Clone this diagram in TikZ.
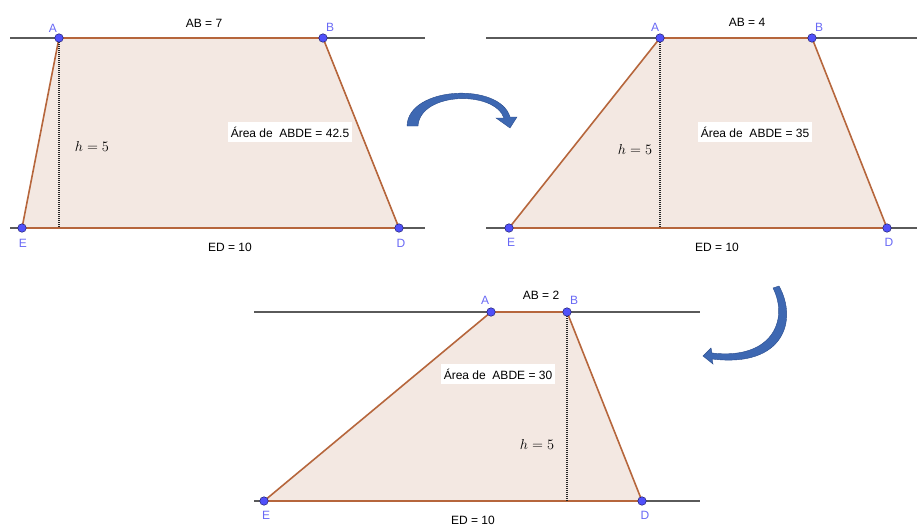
\documentclass[tikz,border=0pt]{standalone}
\usepackage{fontspec}
\setmainfont{Liberation Sans}
\definecolor{trapfill}{RGB}{243,232,226}
\definecolor{trapedge}{RGB}{182,102,60}
\definecolor{ptfill}{RGB}{80,80,250}
\definecolor{ptdraw}{RGB}{30,30,110}
\definecolor{ptlab}{RGB}{105,105,245}
\definecolor{guide}{RGB}{90,90,90}
\definecolor{arrfill}{RGB}{62,104,178}
\definecolor{arrdraw}{RGB}{40,75,140}
\tikzset{
  pt/.style={circle,fill=ptfill,draw=ptdraw,line width=0.5pt,inner sep=0pt,minimum size=8.5pt},
  ptlabel/.style={text=ptlab,font=\fontsize{12}{14}\selectfont,inner sep=0pt},
  txt/.style={font=\fontsize{12}{14}\selectfont,inner sep=0pt},
  areabox/.style={fill=white,font=\fontsize{12}{14}\selectfont,inner xsep=3pt,inner ysep=0pt,minimum height=20pt},
  hlab/.style={font=\fontsize{13.5}{15}\selectfont,inner sep=0pt},
  guideline/.style={draw=guide,line width=1.3pt},
  edge/.style={draw=trapedge,line width=1.6pt},
  htline/.style={draw=black!85,line width=1.1pt,dash pattern=on 1pt off 1pt},
  bluearrow/.style={fill=arrfill,draw=arrdraw,line width=0.4pt}
}
\begin{document}
\begin{tikzpicture}[x=1pt,y=-1pt]
\useasboundingbox (0,0) rectangle (917,525);
% ---------- panel 1 ----------
\coordinate (a1) at (59,38);
\coordinate (b1) at (323,38);
\coordinate (d1) at (399,228);
\coordinate (e1) at (22,228);
\coordinate (h1) at (59,228);
\coordinate (t1l) at (10,38); \coordinate (t1r) at (425,38);
\coordinate (u1l) at (10,228); \coordinate (u1r) at (425,228);
\fill[trapfill] (a1) -- (b1) -- (d1) -- (e1) -- cycle;
\draw[guideline] (t1l) -- (t1r);
\draw[guideline] (u1l) -- (u1r);
\draw[edge] (a1) -- (b1) -- (d1) -- (e1) -- cycle;
\draw[htline] (a1) -- (h1);
\node[pt] (A1) at (a1) {};
\node[pt] (B1) at (b1) {};
\node[pt] (D1) at (d1) {};
\node[pt] (E1) at (e1) {};
\node[ptlabel] (lA1) at (53,28) {A};
\node[ptlabel] (lB1) at (330,27) {B};
\node[ptlabel] (lE1) at (23,243) {E};
\node[ptlabel] (lD1) at (401,243) {D};
\node[txt] (ab1) at (204,23) {AB = 7};
\node[txt] (ed1) at (230,247) {ED = 10};
\node[hlab] (hh1) at (92,146) {$h=5$};
\node[areabox] (ar1) at (290,132) {Área de\ \ ABDE = 42.5};
% ---------- panel 2 ----------
\coordinate (a2) at (660,38);
\coordinate (b2) at (812,38);
\coordinate (d2) at (887,228);
\coordinate (e2) at (509,228);
\coordinate (h2) at (660,228);
\coordinate (t2l) at (486,38); \coordinate (t2r) at (917,38);
\coordinate (u2l) at (486,228); \coordinate (u2r) at (917,228);
\fill[trapfill] (a2) -- (b2) -- (d2) -- (e2) -- cycle;
\draw[guideline] (t2l) -- (t2r);
\draw[guideline] (u2l) -- (u2r);
\draw[edge] (a2) -- (b2) -- (d2) -- (e2) -- cycle;
\draw[htline] (a2) -- (h2);
\node[pt] (A2) at (a2) {};
\node[pt] (B2) at (b2) {};
\node[pt] (D2) at (d2) {};
\node[pt] (E2) at (e2) {};
\node[ptlabel] (lA2) at (655,27) {A};
\node[ptlabel] (lB2) at (819,27) {B};
\node[ptlabel] (lE2) at (511,242) {E};
\node[ptlabel] (lD2) at (889,242) {D};
\node[txt] (ab2) at (747,22) {AB = 4};
\node[txt] (ed2) at (717,247) {ED = 10};
\node[hlab] (hh2) at (635,149) {$h=5$};
\node[areabox] (ar2) at (755,132) {Área de\ \ ABDE = 35};
% ---------- panel 3 ----------
\coordinate (a3) at (491,312);
\coordinate (b3) at (567,312);
\coordinate (d3) at (642,501);
\coordinate (e3) at (264,501);
\coordinate (h3) at (567,501);
\coordinate (t3l) at (254,312); \coordinate (t3r) at (700,312);
\coordinate (u3l) at (254,501); \coordinate (u3r) at (700,501);
\fill[trapfill] (a3) -- (b3) -- (d3) -- (e3) -- cycle;
\draw[guideline] (t3l) -- (t3r);
\draw[guideline] (u3l) -- (u3r);
\draw[edge] (a3) -- (b3) -- (d3) -- (e3) -- cycle;
\draw[htline] (b3) -- (h3);
\node[pt] (A3) at (a3) {};
\node[pt] (B3) at (b3) {};
\node[pt] (D3) at (d3) {};
\node[pt] (E3) at (e3) {};
\node[ptlabel] (lA3) at (485,300) {A};
\node[ptlabel] (lB3) at (574,300) {B};
\node[ptlabel] (lE3) at (266,515) {E};
\node[ptlabel] (lD3) at (645,515) {D};
\node[txt] (ab3) at (541,295) {AB = 2};
\node[txt] (ed3) at (473,520) {ED = 10};
\node[hlab] (hh3) at (537,444) {$h=5$};
\node[areabox] (ar3) at (498,374) {Área de\ \ ABDE = 30};
% ---------- curved arrows ----------
\filldraw[bluearrow] (407,126) .. controls (408,86) and (500,82) .. (510,117)
  -- (517,117) -- (510,128) -- (496,118) -- (504,118)
  .. controls (494,90) and (420,92) .. (418,126) -- cycle;
\filldraw[bluearrow] (779,286) .. controls (798,320) and (784,368) .. (712,359)
  -- (713,364) -- (703,356) -- (711,348) -- (712,353)
  .. controls (772,360) and (789,320) .. (773,288) -- cycle;
\end{tikzpicture}
\end{document}
